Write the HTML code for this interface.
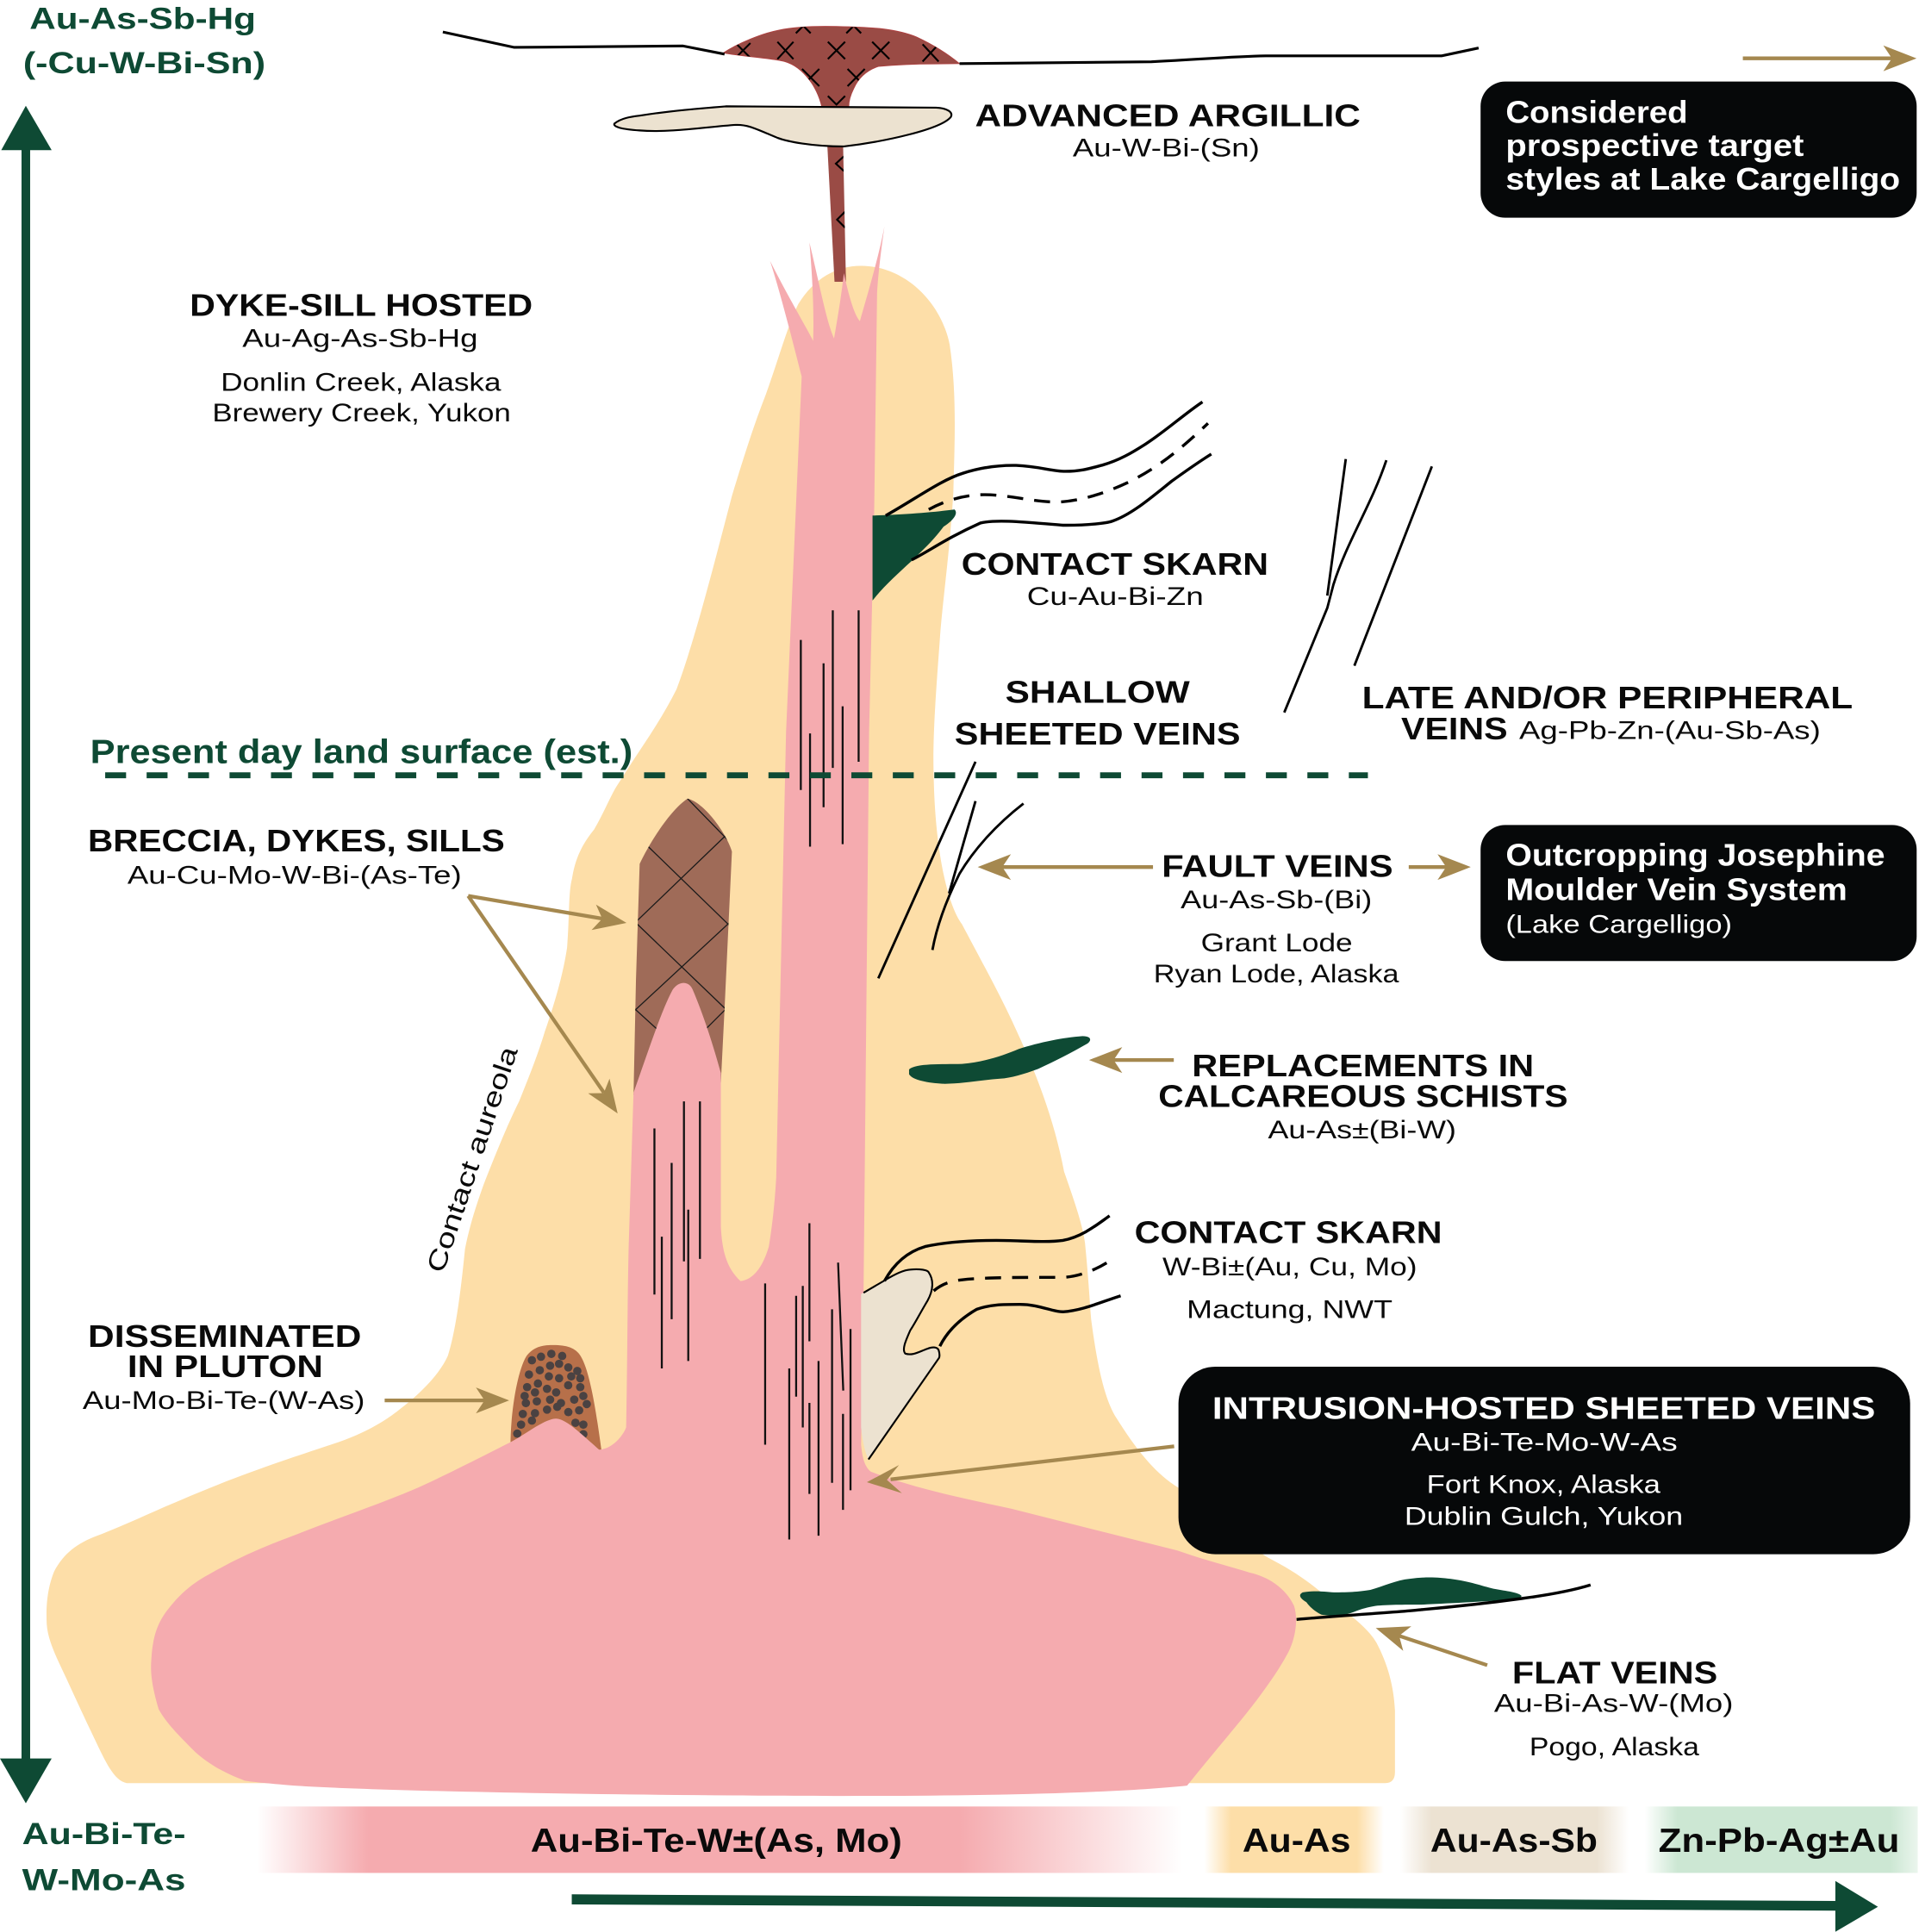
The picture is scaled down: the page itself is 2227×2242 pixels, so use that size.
<!DOCTYPE html>
<html><head><meta charset="utf-8">
<style>html,body{margin:0;padding:0;background:#fff;}svg{display:block}</style>
</head><body>
<svg xmlns="http://www.w3.org/2000/svg" width="2227" height="2242" viewBox="0 0 1560 1570" preserveAspectRatio="none">
<defs>
<linearGradient id="gPink" x1="0" x2="1" y1="0" y2="0">
<stop offset="0" stop-color="#F5ABAF" stop-opacity="0"/>
<stop offset="0.12" stop-color="#F5ABAF" stop-opacity="1"/>
<stop offset="0.76" stop-color="#F5ABAF" stop-opacity="1"/>
<stop offset="1" stop-color="#F5ABAF" stop-opacity="0"/>
</linearGradient>
<linearGradient id="gCream" x1="0" x2="1" y1="0" y2="0">
<stop offset="0" stop-color="#FDDEA8" stop-opacity="0"/>
<stop offset="0.15" stop-color="#FDDEA8" stop-opacity="1"/>
<stop offset="0.85" stop-color="#FDDEA8" stop-opacity="1"/>
<stop offset="1" stop-color="#FDDEA8" stop-opacity="0"/>
</linearGradient>
<linearGradient id="gBeige" x1="0" x2="1" y1="0" y2="0">
<stop offset="0" stop-color="#ECE2D2" stop-opacity="0"/>
<stop offset="0.14" stop-color="#ECE2D2" stop-opacity="1"/>
<stop offset="0.86" stop-color="#ECE2D2" stop-opacity="1"/>
<stop offset="1" stop-color="#ECE2D2" stop-opacity="0"/>
</linearGradient>
<linearGradient id="gGreen" x1="0" x2="1" y1="0" y2="0">
<stop offset="0" stop-color="#CCE7D3" stop-opacity="0"/>
<stop offset="0.12" stop-color="#CCE7D3" stop-opacity="1"/>
<stop offset="0.9" stop-color="#CCE7D3" stop-opacity="1"/>
<stop offset="1" stop-color="#CCE7D3" stop-opacity="0.4"/>
</linearGradient>
<clipPath id="brc"><path d="M 515,890 L 517,796 L 520,702 C 528,685 545,658 559,649 C 572,652 590,676 595,692 L 589,820 L 586,880 Z"/></clipPath>
<clipPath id="capc"><path d="M 588,43 C 600,35 620,27 633,24.5 C 645,22 660,21 680,21.5 C 700,22 714,23 718,23.5 C 730,25 740,28 745,30 C 760,37 772,45 780,51.7 L 760,52 C 740,52 725,53 714,54 C 705,57 698,63 694,72 C 691,78 690,82 690,86.5 L 668,86.5 C 666,78 662,70 658,65 C 652,57 645,52 638,50 C 625,47 605,46 588,43 Z M 672.6,119 L 685.4,119 L 687.7,229 L 678.4,229 Z"/></clipPath>
</defs>

<!-- bottom band -->
<rect x="209" y="1468" width="752" height="54" fill="url(#gPink)"/>
<rect x="979" y="1468" width="146" height="54" fill="url(#gCream)"/>
<rect x="1138" y="1468" width="186" height="54" fill="url(#gBeige)"/>
<rect x="1337" y="1468" width="222" height="54" fill="url(#gGreen)"/>

<!-- aureola -->
<path fill="#FDDEA8" d="M 700,216 C 735,216 765,245 772,280 C 778,320 776,360 775,400 C 772,450 766,490 764,520 C 761,560 758,600 759,630 C 760,690 770,735 782,751 C 800,785 815,812 827,839 C 845,878 858,915 865,952 C 873,975 880,995 882,1010 C 885,1040 886,1060 887,1072 C 892,1110 898,1138 908,1153 C 925,1180 940,1198 958,1209 C 990,1232 1010,1255 1035,1268 C 1058,1280 1072,1292 1085,1303 C 1103,1316 1114,1326 1119,1335 C 1128,1352 1133,1370 1134,1390 L 1134,1440 Q 1134,1449 1126,1449 L 103,1449 C 92,1447 85,1430 74,1407 C 66,1390 59,1375 54,1364 C 45,1345 39,1333 38,1320 C 37,1300 40,1287 44,1277 C 52,1262 63,1254 79,1248 C 105,1238 125,1228 147,1219 C 195,1198 245,1182 275,1172 C 298,1164 314,1154 324,1146 C 345,1130 358,1115 364,1102 C 371,1080 375,1045 378,1015 C 382,995 387,980 393,963 C 402,940 412,915 422,895 C 430,875 437,858 443,838 C 452,812 458,790 461,770 C 463,745 462,725 465,714 C 468,695 475,684 483,674 C 490,662 495,650 500,641 C 507,630 512,622 518,613 C 528,598 540,580 550,560 C 565,520 580,460 595,403 C 605,370 613,345 622,322 C 632,295 640,265 649,247 C 662,226 680,216 700,216 Z"/>

<!-- breccia -->
<path fill="#9F6B58" d="M 515,890 L 517,796 L 520,702 C 528,685 545,658 559,649 C 572,652 590,676 595,692 L 589,820 L 586,880 Z"/>
<g clip-path="url(#brc)" stroke="#1a1a1a" stroke-width="0.9" fill="none">
<line x1="527" y1="688" x2="596" y2="755"/>
<line x1="592" y1="677" x2="514" y2="752"/>
<line x1="516" y1="749" x2="592" y2="822"/>
<line x1="596" y1="747" x2="514" y2="823"/>
<line x1="556" y1="646" x2="592" y2="683"/>
<line x1="514" y1="818" x2="536" y2="838"/>
<line x1="592" y1="818" x2="572" y2="838"/>
</g>

<!-- disseminated -->
<path fill="#B7704A" d="M 415,1174 C 415,1150 420,1115 428,1102 C 434,1094 442,1093 450,1093 C 460,1093 468,1095 472,1102 C 480,1115 485,1150 489,1179 Z"/>
<g fill="#4A4242">
<circle cx="432.4" cy="1105.4" r="3.4"/><circle cx="439.8" cy="1102.5" r="3.4"/><circle cx="448.2" cy="1100.2" r="3.4"/><circle cx="457" cy="1101.9" r="3.4"/>
<circle cx="430" cy="1117" r="3.4"/><circle cx="438.8" cy="1113.5" r="3.4"/><circle cx="447.2" cy="1109.8" r="3.4"/><circle cx="454.5" cy="1108.3" r="3.4"/><circle cx="462" cy="1111.2" r="3.4"/><circle cx="469.3" cy="1114.1" r="3.4"/>
<circle cx="428.5" cy="1127.2" r="3.4"/><circle cx="437.3" cy="1124.3" r="3.4"/><circle cx="446.2" cy="1118.5" r="3.4"/><circle cx="454.5" cy="1120" r="3.4"/><circle cx="464.4" cy="1118.5" r="3.4"/><circle cx="471.7" cy="1120" r="3.4"/>
<circle cx="426.5" cy="1134.4" r="3.4"/><circle cx="434.9" cy="1131.5" r="3.4"/><circle cx="444.7" cy="1128.6" r="3.4"/><circle cx="452.1" cy="1131.5" r="3.4"/><circle cx="461.9" cy="1125.7" r="3.4"/><circle cx="471.7" cy="1127.2" r="3.4"/>
<circle cx="427.5" cy="1140.2" r="3.4"/><circle cx="436.4" cy="1138.8" r="3.4"/><circle cx="447.2" cy="1137.4" r="3.4"/><circle cx="456" cy="1140.2" r="3.4"/><circle cx="466.8" cy="1137.4" r="3.4"/><circle cx="474.2" cy="1134.4" r="3.4"/>
<circle cx="425" cy="1149" r="3.4"/><circle cx="434.9" cy="1148.4" r="3.4"/><circle cx="444.7" cy="1145.5" r="3.4"/><circle cx="453" cy="1143.2" r="3.4"/><circle cx="462" cy="1147.5" r="3.4"/><circle cx="470.8" cy="1146.1" r="3.4"/><circle cx="477" cy="1141" r="3.4"/>
<circle cx="423.6" cy="1157.7" r="3.4"/><circle cx="432.4" cy="1154.4" r="3.4"/><circle cx="467.8" cy="1156.2" r="3.4"/><circle cx="474.2" cy="1157.7" r="3.4"/><circle cx="474.2" cy="1165.5" r="3.4"/><circle cx="420.5" cy="1165" r="3.4"/>
</g>

<!-- cap stem (under pink) -->
<path fill="#9A4B45" d="M 672.6,119 L 685.4,119 L 687.7,229 L 678.4,229 Z"/>

<!-- pink intrusion -->
<path fill="#F5ABAF" d="M 626,212 C 640,240 655,265 661,277 C 662,250 660,220 658,197 C 666,230 672,262 678,275 C 681,258 684,240 686,222 C 690,240 694,255 699,261 C 705,240 714,210 719,184 C 716,205 714,222 713,238 L 710.6,419 L 706.5,595 L 702,1050 L 700,1174 C 701,1185 703,1192 708,1196 C 745,1210 785,1218 822,1226 L 957,1260 C 980,1268 1000,1273 1016,1278 C 1030,1281 1045,1290 1052,1305 C 1056,1318 1052,1335 1046,1345 C 1040,1356 1033,1366 1025,1377 C 1012,1395 990,1420 965,1451 C 880,1460 700,1460 597,1459 C 450,1458 300,1455 239,1451 C 215,1449 205,1448 199,1447 C 180,1440 168,1432 159,1424 C 145,1410 135,1400 129,1389 C 124,1372 122,1360 123,1349 C 124,1330 128,1318 138,1306 C 147,1295 155,1288 167,1281 C 200,1262 220,1255 246,1245 C 290,1228 320,1218 344,1207 C 370,1195 395,1182 415,1172 C 428,1165 440,1155 450,1153 C 458,1151 470,1163 487,1178 C 495,1178 505,1170 509,1160 C 510,1110 510,1060 511,1015 L 515,888 C 525,860 538,820 547,804 C 552,797 560,797 563,804 C 572,825 580,850 586,872 L 586,997 C 587,1015 590,1030 602,1041 C 612,1040 620,1030 625,1013 C 628,995 630,975 631,957 L 639,595 L 651.7,306 C 645,280 635,240 626,212 Z"/>

<!-- sheeted vein lines -->
<g stroke="#111" stroke-width="1.6">
<line x1="651" y1="520" x2="651" y2="642"/>
<line x1="658.5" y1="596" x2="658.5" y2="688"/>
<line x1="669.5" y1="539" x2="669.5" y2="656"/>
<line x1="677" y1="496" x2="677" y2="624"/>
<line x1="685" y1="574" x2="685" y2="686"/>
<line x1="698" y1="496" x2="698" y2="619"/>
<line x1="532" y1="917" x2="532" y2="1052"/>
<line x1="538" y1="1005" x2="538" y2="1112"/>
<line x1="546" y1="945" x2="546" y2="1072"/>
<line x1="556" y1="895" x2="556" y2="1025"/>
<line x1="559.5" y1="983" x2="559.5" y2="1106"/>
<line x1="569" y1="895" x2="569" y2="1023"/>
<line x1="622" y1="1043" x2="622" y2="1174"/>
<line x1="641.6" y1="1112" x2="641.6" y2="1251"/>
<line x1="647.2" y1="1053" x2="647.2" y2="1135"/>
<line x1="652.6" y1="1045" x2="652.6" y2="1160"/>
<line x1="658" y1="994" x2="658" y2="1090"/>
<line x1="658" y1="1140" x2="658" y2="1214"/>
<line x1="665.4" y1="1106" x2="665.4" y2="1248"/>
<line x1="676.4" y1="1064" x2="676.4" y2="1205"/>
<line x1="681.3" y1="1026" x2="685.5" y2="1130"/>
<line x1="685.3" y1="1149" x2="685.3" y2="1227"/>
<line x1="691.4" y1="1080" x2="691.4" y2="1211"/>
</g>

<!-- top green skarn -->
<path fill="#0E4A34" d="M 709.3,418.9 C 740,418 760,416 776,414 C 780,418 772,425 767,428 C 758,440 750,447 741,456 C 730,466 718,477 709.3,488 Z"/>
<g fill="none" stroke="#000" stroke-width="2.4">
<path d="M 720,419 C 745,405 765,390 783,384.5 C 800,379 815,378 826,378.2 C 845,379 855,383 866,383 C 880,383 888,380 896,378 C 910,374 920,368 931,361 C 948,350 962,337 977.5,326.6"/>
<path stroke-dasharray="13 9" d="M 755,414 C 770,406 785,402 800,402 C 820,402 840,408 860,408 C 880,407 900,400 917,392 C 940,381 960,365 982,344"/>
<path d="M 741,455 C 755,448 770,437 797,425 C 810,422 830,424 864,426.8 C 885,427 900,425 904,423.6 C 920,418 935,405 952.5,391 C 965,382 975,375 984.7,369"/>
</g>

<!-- lower beige skarn -->
<path fill="#ECE2D0" d="M 700,1051.6 L 719,1040.6 C 728,1035 735,1032 740,1031.7 C 748,1031 754,1032 755,1034 C 759,1040 759,1048 754,1057 C 748,1067 744,1075 740,1081 C 736,1090 733,1097 736,1100 C 742,1102 748,1098 754,1096 C 759,1094 762,1095 763,1097 C 764,1100 764,1103 763,1104 L 706,1186 C 703,1180 701,1170 700,1160 Z"/>
<path fill="none" stroke="#000" stroke-width="1.5" d="M 702,1050.5 L 719,1040.6 C 728,1035 735,1032 740,1031.7 C 748,1031 754,1032 755,1034 C 759,1040 759,1048 754,1057 C 748,1067 744,1075 740,1081 C 736,1090 733,1097 736,1100 C 742,1102 748,1098 754,1096 C 759,1094 762,1095 763,1097 C 764,1100 764,1103 763,1104 L 706,1186"/>
<g fill="none" stroke="#000" stroke-width="2.4">
<path d="M 719,1041 C 725,1030 735,1018 752,1013 C 770,1009 790,1008 810,1008 C 830,1008 850,1010 864,1008 C 880,1005 892,995 902,988"/>
<path stroke-dasharray="13 9" d="M 759,1049 C 765,1044 772,1041 782,1040 C 800,1038 830,1038 865,1038 C 880,1037 895,1030 906,1022"/>
<path d="M 764,1094 C 770,1082 780,1072 794,1064 C 805,1060 815,1060 829,1060 C 845,1060 855,1066 864,1066 C 880,1065 895,1058 911,1053"/>
</g>

<!-- replacement lens -->
<path fill="#0E4A34" d="M 739,869 C 745,864 765,865 782,864.6 C 800,863 815,858 828,852.5 C 845,847 865,843 880,842 C 888,842 887,846 884,848 C 870,856 858,862 844,868.6 C 832,873 822,876 813,876.6 C 795,878 780,881 766,880.7 C 755,880 742,878 739,873 Z"/>

<!-- flat vein -->
<path fill="#0E4A34" d="M 1059,1294 C 1070,1292 1080,1294 1086,1294 C 1100,1294 1108,1293 1114,1292 C 1125,1289 1135,1284 1146,1283 C 1160,1281 1170,1282 1179,1283 C 1195,1285 1205,1289 1214,1291 C 1225,1293 1235,1294 1237,1297 C 1235,1300 1230,1300 1226,1300 C 1200,1302 1175,1303 1156,1304 C 1140,1304 1128,1304 1118,1305 C 1105,1307 1100,1311 1093,1312 C 1085,1313 1078,1313 1074,1312 C 1068,1309 1064,1305 1062,1302 C 1057,1299 1055,1296 1059,1294 Z"/>
<path fill="none" stroke="#000" stroke-width="2.4" d="M 1054,1316 C 1100,1312 1140,1310 1156,1308 C 1190,1305 1215,1302 1237,1299 C 1260,1296 1280,1292 1293,1288"/>

<!-- fault veins & late veins -->
<g fill="none" stroke="#000" stroke-width="2">
<line x1="793" y1="619" x2="714" y2="795"/>
<line x1="793" y1="651" x2="771.5" y2="726"/>
<path d="M 832,653 C 810,670 792,690 780,710 C 770,730 762,750 758,772"/>
<line x1="1094" y1="373" x2="1079" y2="484"/>
<path d="M 1127,374 C 1115,410 1095,440 1084,475 L 1079,494 L 1044,579"/>
<line x1="1164" y1="379" x2="1101" y2="541"/>
</g>

<!-- cap -->
<path fill="#9A4B45" stroke="#B04040" stroke-width="0.6" d="M 588,43 C 600,35 620,27 633,24.5 C 645,22 660,21 680,21.5 C 700,22 714,23 718,23.5 C 730,25 740,28 745,30 C 760,37 772,45 780,51.7 L 760,52 C 740,52 725,53 714,54 C 705,57 698,63 694,72 C 691,78 690,82 690,86.5 L 668,86.5 C 666,78 662,70 658,65 C 652,57 645,52 638,50 C 625,47 605,46 588,43 Z"/>
<g clip-path="url(#capc)" stroke="#000" stroke-width="1.5" fill="none">
<path d="M 598,35 L 610,47 M 610,35 L 598,47"/>
<path d="M 632,34 L 645,48 M 645,34 L 632,48"/>
<path d="M 673,34 L 687,48 M 687,34 L 673,48"/>
<path d="M 709,34 L 723,48 M 723,34 L 709,48"/>
<path d="M 750,36 L 763,50 M 763,36 L 750,50"/>
<path d="M 652,56 L 666,70 M 666,56 L 652,70"/>
<path d="M 689,56 L 703,70 M 703,56 L 689,70"/>
<path d="M 647,27 L 653,21 L 659,27"/>
<path d="M 688,27 L 694,21 L 700,27"/>
<path d="M 673,78 L 680,85 L 687,78"/>
<path d="M 686,127 L 679.5,133 L 686,139"/>
<path d="M 687,172 L 680.5,178.5 L 687,185"/>
</g>

<!-- sill -->
<path fill="#ECE2D0" stroke="#000" stroke-width="1.5" d="M 499.5,100.4 C 505,96 512,95 520,94 C 545,90 570,88 590,86.4 L 761,87.5 C 770,88 775,91 773,95 C 765,105 720,115 686,119 C 660,119 640,115 632,112 C 615,105 608,101 598,101.5 C 575,103 545,108 520,106 C 505,105 498,103 499.5,100.4 Z"/>

<!-- ground line -->
<g fill="none" stroke="#000" stroke-width="2.2">
<path d="M 360,26 L 418,38.5 L 555,37.3 L 589,44"/>
<path d="M 780,51.7 L 936,50.2 C 980,48 1000,46 1029,45.4 L 1172,45.4 L 1202,39"/>
</g>

<!-- present day land surface -->
<line x1="85.5" y1="630" x2="1112" y2="630" stroke="#0E4A34" stroke-width="4.8" stroke-dasharray="17 16.7"/>

<!-- dark green axis arrows -->
<g fill="#0E4A34">
<rect x="17.5" y="118" width="7" height="1313"/>
<polygon points="21,86 1,122 42,122"/>
<polygon points="0,1429 42,1429 21,1465.4"/>
<polygon points="464.8,1539.4 1493,1544.8 1493,1552.7 464.8,1547.6"/>
<polygon points="1492,1528.5 1526.6,1549.5 1492,1569.8"/>
</g>

<!-- tan arrows -->
<g stroke="#A5884F" stroke-width="3" fill="none">
<line x1="1416.8" y1="47.4" x2="1540" y2="47.4"/>
<line x1="380.6" y1="728" x2="490" y2="746.6"/>
<line x1="380.6" y1="728" x2="491" y2="888"/>
<line x1="312.7" y1="1138" x2="395" y2="1138"/>
<line x1="937.3" y1="704.6" x2="813" y2="704.6"/>
<line x1="1145.2" y1="704.6" x2="1177" y2="704.6"/>
<line x1="954.2" y1="861.4" x2="904" y2="861.4"/>
<line x1="954.5" y1="1175.3" x2="724" y2="1202.2"/>
<line x1="1209" y1="1353.2" x2="1137" y2="1329.2"/>
</g>
<g fill="#A5884F">
<polygon points="1558,47.4 1531,36.9 1538,47.4 1531,57.9"/>
<polygon points="509.3,750 484.5,735.1 489.6,746.6 480.9,755.8"/>
<polygon points="502.1,904.8 495.5,876.6 490.8,888.3 478.1,888.5"/>
<polygon points="413.9,1138 386.9,1127.5 393.9,1138 386.9,1148.5"/>
<polygon points="794.8,704.6 821.8,694.1 814.8,704.6 821.8,715.1"/>
<polygon points="1195.6,704.6 1168.6,694.1 1175.6,704.6 1168.6,715.1"/>
<polygon points="885.3,861.4 912.3,850.9 905.3,861.4 912.3,871.9"/>
<polygon points="704.7,1204.5 730.8,1190.5 721,1202.6 733.2,1213.4"/>
<polygon points="1118.4,1323 1147.3,1321.6 1137.4,1329.3 1140.7,1341.5"/>
</g>

<!-- black boxes -->
<g fill="#060809">
<rect x="1203.6" y="66.3" width="354.5" height="110.6" rx="20"/>
<rect x="1203.6" y="670.4" width="354.5" height="110.6" rx="20"/>
<rect x="958" y="1110.6" width="594.8" height="152.4" rx="30"/>
</g>

<!-- text -->
<g font-family="'Liberation Sans', Arial, sans-serif" lengthAdjust="spacingAndGlyphs">
<g fill="#0E4A34" font-weight="bold" font-size="24.5">
<text x="24" y="23.5" textLength="184" lengthAdjust="spacingAndGlyphs">Au-As-Sb-Hg</text>
<text x="18.8" y="59.5" textLength="197" lengthAdjust="spacingAndGlyphs">(-Cu-W-Bi-Sn)</text>
<text x="73.3" y="620" font-size="27" textLength="441" lengthAdjust="spacingAndGlyphs">Present day land surface (est.)</text>
<text x="18" y="1498.5" textLength="133" lengthAdjust="spacingAndGlyphs">Au-Bi-Te-</text>
<text x="18" y="1536" textLength="133" lengthAdjust="spacingAndGlyphs">W-Mo-As</text>
</g>
<g fill="#0a0a0a" font-weight="bold" font-size="25">
<text x="792.6" y="102.5" textLength="313.4" lengthAdjust="spacingAndGlyphs">ADVANCED ARGILLIC</text>
<text x="154.3" y="256.8" textLength="278.7" lengthAdjust="spacingAndGlyphs">DYKE-SILL HOSTED</text>
<text x="781.6" y="467" textLength="249.5" lengthAdjust="spacingAndGlyphs">CONTACT SKARN</text>
<text x="817.2" y="571" textLength="150" lengthAdjust="spacingAndGlyphs">SHALLOW</text>
<text x="776" y="605" textLength="232.4" lengthAdjust="spacingAndGlyphs">SHEETED VEINS</text>
<text x="1107.2" y="575.6" textLength="399" lengthAdjust="spacingAndGlyphs">LATE AND/OR PERIPHERAL</text>
<text x="1139" y="601" textLength="86.6" lengthAdjust="spacingAndGlyphs">VEINS</text>
<text x="71.5" y="691.8" textLength="338.8" lengthAdjust="spacingAndGlyphs">BRECCIA, DYKES, SILLS</text>
<text x="944.4" y="712.7" textLength="188" lengthAdjust="spacingAndGlyphs">FAULT VEINS</text>
<text x="969" y="874.7" textLength="278" lengthAdjust="spacingAndGlyphs">REPLACEMENTS IN</text>
<text x="941.6" y="899.6" textLength="333" lengthAdjust="spacingAndGlyphs">CALCAREOUS SCHISTS</text>
<text x="922.3" y="1010.2" textLength="250" lengthAdjust="spacingAndGlyphs">CONTACT SKARN</text>
<text x="71.5" y="1094.6" textLength="222.3" lengthAdjust="spacingAndGlyphs">DISSEMINATED</text>
<text x="103.6" y="1119" textLength="159" lengthAdjust="spacingAndGlyphs">IN PLUTON</text>
<text x="1229.3" y="1367.9" textLength="167" lengthAdjust="spacingAndGlyphs">FLAT VEINS</text>
<text x="431.3" y="1505" font-size="27" textLength="302" lengthAdjust="spacingAndGlyphs">Au-Bi-Te-W±(As, Mo)</text>
<text x="1010" y="1505" font-size="27" textLength="88" lengthAdjust="spacingAndGlyphs">Au-As</text>
<text x="1162.7" y="1505" font-size="27" textLength="136" lengthAdjust="spacingAndGlyphs">Au-As-Sb</text>
<text x="1348.2" y="1505" font-size="27" textLength="196" lengthAdjust="spacingAndGlyphs">Zn-Pb-Ag±Au</text>
</g>
<g fill="#0a0a0a" font-size="20.5">
<text x="872" y="127" textLength="152" lengthAdjust="spacingAndGlyphs">Au-W-Bi-(Sn)</text>
<text x="197" y="282" textLength="191.5" lengthAdjust="spacingAndGlyphs">Au-Ag-As-Sb-Hg</text>
<text x="179.5" y="317.5" textLength="227.8" lengthAdjust="spacingAndGlyphs">Donlin Creek, Alaska</text>
<text x="172.6" y="342.4" textLength="242.7" lengthAdjust="spacingAndGlyphs">Brewery Creek, Yukon</text>
<text x="834.8" y="491.5" textLength="143.6" lengthAdjust="spacingAndGlyphs">Cu-Au-Bi-Zn</text>
<text x="1235" y="600.5" textLength="245" lengthAdjust="spacingAndGlyphs">Ag-Pb-Zn-(Au-Sb-As)</text>
<text x="103.6" y="718" textLength="271.7" lengthAdjust="spacingAndGlyphs">Au-Cu-Mo-W-Bi-(As-Te)</text>
<text x="959.8" y="738" textLength="155.6" lengthAdjust="spacingAndGlyphs">Au-As-Sb-(Bi)</text>
<text x="976.2" y="773" textLength="123.3" lengthAdjust="spacingAndGlyphs">Grant Lode</text>
<text x="937.8" y="798.3" textLength="199.5" lengthAdjust="spacingAndGlyphs">Ryan Lode, Alaska</text>
<text x="1030.8" y="924.9" textLength="153" lengthAdjust="spacingAndGlyphs">Au-As±(Bi-W)</text>
<text x="945" y="1036.3" textLength="207" lengthAdjust="spacingAndGlyphs">W-Bi±(Au, Cu, Mo)</text>
<text x="964.7" y="1071.2" textLength="167.3" lengthAdjust="spacingAndGlyphs">Mactung, NWT</text>
<text x="67.2" y="1145" textLength="229.4" lengthAdjust="spacingAndGlyphs">Au-Mo-Bi-Te-(W-As)</text>
<text x="1214.6" y="1391" textLength="194.4" lengthAdjust="spacingAndGlyphs">Au-Bi-As-W-(Mo)</text>
<text x="1243.3" y="1426.5" textLength="138" lengthAdjust="spacingAndGlyphs">Pogo, Alaska</text>
<text x="390.6" y="944.4" text-anchor="middle" font-size="21" textLength="192" lengthAdjust="spacingAndGlyphs" transform="rotate(-71.5 390.6 944.4)">Contact aureola</text>
</g>
<g fill="#ffffff" font-weight="bold" font-size="25">
<text x="1224" y="99.7" textLength="148" lengthAdjust="spacingAndGlyphs">Considered</text>
<text x="1224" y="126.6" textLength="242.4" lengthAdjust="spacingAndGlyphs">prospective target</text>
<text x="1224" y="154" textLength="320.7" lengthAdjust="spacingAndGlyphs">styles at Lake Cargelligo</text>
<text x="1224" y="703.4" textLength="308.4" lengthAdjust="spacingAndGlyphs">Outcropping Josephine</text>
<text x="1224" y="731.6" textLength="277.7" lengthAdjust="spacingAndGlyphs">Moulder Vein System</text>
<text x="985.5" y="1152.9" textLength="539" lengthAdjust="spacingAndGlyphs">INTRUSION-HOSTED SHEETED VEINS</text>
</g>
<g fill="#ffffff" font-size="20.5">
<text x="1224" y="758" textLength="184" lengthAdjust="spacingAndGlyphs">(Lake Cargelligo)</text>
<text x="1147.2" y="1179" textLength="216.5" lengthAdjust="spacingAndGlyphs">Au-Bi-Te-Mo-W-As</text>
<text x="1159.8" y="1213.2" textLength="190" lengthAdjust="spacingAndGlyphs">Fort Knox, Alaska</text>
<text x="1141.7" y="1239.3" textLength="226.5" lengthAdjust="spacingAndGlyphs">Dublin Gulch, Yukon</text>
</g>
</g>
</svg>
</body></html>
